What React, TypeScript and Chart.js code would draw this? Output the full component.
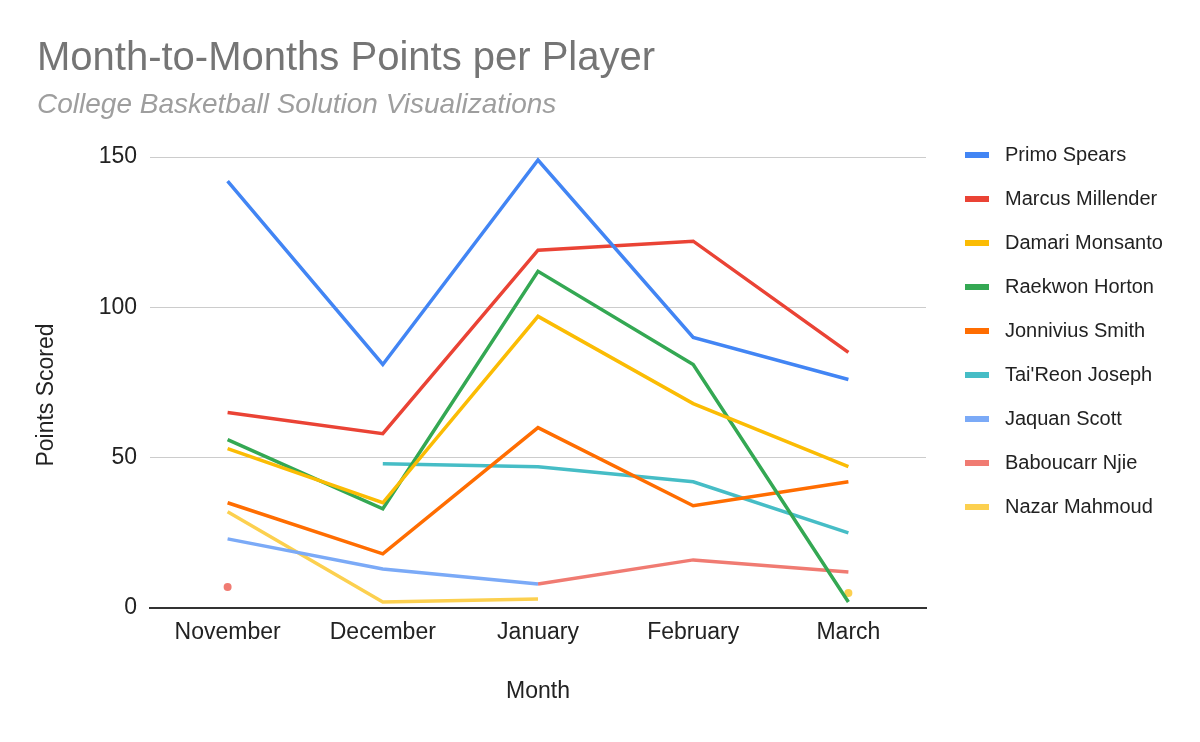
import React, { useEffect, useRef } from "react";
import { Chart, registerables } from "chart.js";

Chart.register(...registerables);

const TITLE = "Month-to-Months Points per Player";
const SUBTITLE = "College Basketball Solution Visualizations";
const X_TITLE = "Month";
const Y_TITLE = "Points Scored";

const months = ["November", "December", "January", "February", "March"];
const players = [
  "Primo Spears",
  "Marcus Millender",
  "Damari Monsanto",
  "Raekwon Horton",
  "Jonnivius Smith",
  "Tai'Reon Joseph",
  "Jaquan Scott",
  "Baboucarr Njie",
  "Nazar Mahmoud",
];
const primoSpears = [142, 81, 149, 90, 76];
const marcusMillender = [65, 58, 119, 122, 85];
const damariMonsanto = [53, 35, 97, 68, 47];
const raekwonHorton = [56, 33, 112, 81, 2];
const jonniviusSmith = [35, 18, 60, 34, 42];
const taiReonJoseph = [null, 48, 47, 42, 25];
const jaquanScott = [23, 13, 8, null, null];
const baboucarrNjie = [7, null, 8, 16, 12];
const nazarMahmoud = [32, 2, 3, null, 5];
const seriesValues = [
  primoSpears,
  marcusMillender,
  damariMonsanto,
  raekwonHorton,
  jonniviusSmith,
  taiReonJoseph,
  jaquanScott,
  baboucarrNjie,
  nazarMahmoud,
];
const colors = [
  "#4285F4",
  "#EA4335",
  "#FBBC04",
  "#34A853",
  "#FF6D01",
  "#46BDC6",
  "#7BAAF7",
  "#F07B72",
  "#FCD04F",
];
const yMin = 0;
const yMax = 150;
const yStep = 50;

const FONT = '"Liberation Sans", Arial, sans-serif';

const headerPlugin = {
  id: "header",
  afterDraw(chart: any) {
    const ctx = chart.ctx;
    ctx.save();
    ctx.textBaseline = "alphabetic";
    ctx.textAlign = "left";
    ctx.fillStyle = "#757575";
    ctx.font = `40px ${FONT}`;
    ctx.fillText(TITLE, 37, 70);
    ctx.fillStyle = "#9e9e9e";
    ctx.font = `italic 28px ${FONT}`;
    ctx.fillText(SUBTITLE, 37, 113);
    // vertical axis title
    ctx.translate(47, 395);
    ctx.rotate(-Math.PI / 2);
    ctx.textAlign = "center";
    ctx.textBaseline = "middle";
    ctx.fillStyle = "#222222";
    ctx.font = `23px ${FONT}`;
    ctx.fillText(Y_TITLE, 0, 0);
    ctx.restore();
  },
};

const legendPlugin = {
  id: "sideLegend",
  afterDraw(chart: any) {
    const ctx = chart.ctx;
    const area = chart.chartArea;
    ctx.save();
    ctx.textBaseline = "middle";
    ctx.textAlign = "left";
    ctx.font = `20px ${FONT}`;
    chart.data.datasets.forEach((ds: any, i: number) => {
      const y = area.top - 2 + i * 44;
      ctx.fillStyle = ds.borderColor;
      ctx.fillRect(area.right + 39, y - 3, 24, 6);
      ctx.fillStyle = "#222222";
      ctx.fillText(ds.label, area.right + 79, y);
    });
    ctx.restore();
  },
};

function isolatedRadius(c: any) {
  const d = c.dataset.data;
  const i = c.dataIndex;
  if (d[i] == null) return 0;
  const prevNull = i === 0 || d[i - 1] == null;
  const nextNull = i === d.length - 1 || d[i + 1] == null;
  return prevNull && nextNull ? 4 : 0;
}

export default function App() {
  const ref = useRef<HTMLCanvasElement | null>(null);

  useEffect(() => {
    if (!ref.current) return;
    const chart = new Chart(ref.current, {
      type: "line",
      data: {
        labels: months,
        datasets: players.map((name, i) => ({
          label: name,
          data: seriesValues[i],
          borderColor: colors[i],
          backgroundColor: colors[i],
          borderWidth: 3.5,
          pointRadius: isolatedRadius,
          pointHoverRadius: isolatedRadius,
          pointBorderWidth: 0,
          spanGaps: false,
          tension: 0,
          fill: false,
        })),
      },
      options: {
        animation: false,
        responsive: true,
        maintainAspectRatio: false,
        layout: { padding: { top: 157, left: 0, right: 274, bottom: 0 } },
        plugins: {
          legend: { display: false },
          title: { display: false },
          tooltip: { enabled: false },
        },
        scales: {
          x: {
            offset: true,
            grid: { display: false, drawTicks: false },
            border: { display: true, color: "#333333", width: 2 },
            ticks: {
              color: "#222222",
              font: { family: FONT, size: 23 },
              padding: 11,
              maxRotation: 0,
            },
            title: {
              display: true,
              text: X_TITLE,
              color: "#222222",
              font: { family: FONT, size: 23 },
              padding: { top: 0, bottom: 37 },
            },
            afterFit(scale: any) {
              scale.height = 134;
            },
          },
          y: {
            min: yMin,
            max: yMax,
            ticks: {
              stepSize: yStep,
              color: "#222222",
              font: { family: FONT, size: 23 },
              padding: 13,
            },
            grid: {
              drawTicks: false,
              color: (c: any) => (c.tick && c.tick.value === 0 ? "#333333" : "#cccccc"),
              lineWidth: (c: any) => (c.tick && c.tick.value === 0 ? 2 : 1),
            },
            border: { display: false },
            title: { display: false },
            afterFit(scale: any) {
              scale.width = 150;
            },
          },
        },
      },
      plugins: [headerPlugin, legendPlugin],
    });
    return () => chart.destroy();
  }, []);

  return (
    <div style={{ position: "absolute", left: 0, top: 0, width: 1200, height: 742, background: "#fff" }}>
      <canvas ref={ref} />
    </div>
  );
}
